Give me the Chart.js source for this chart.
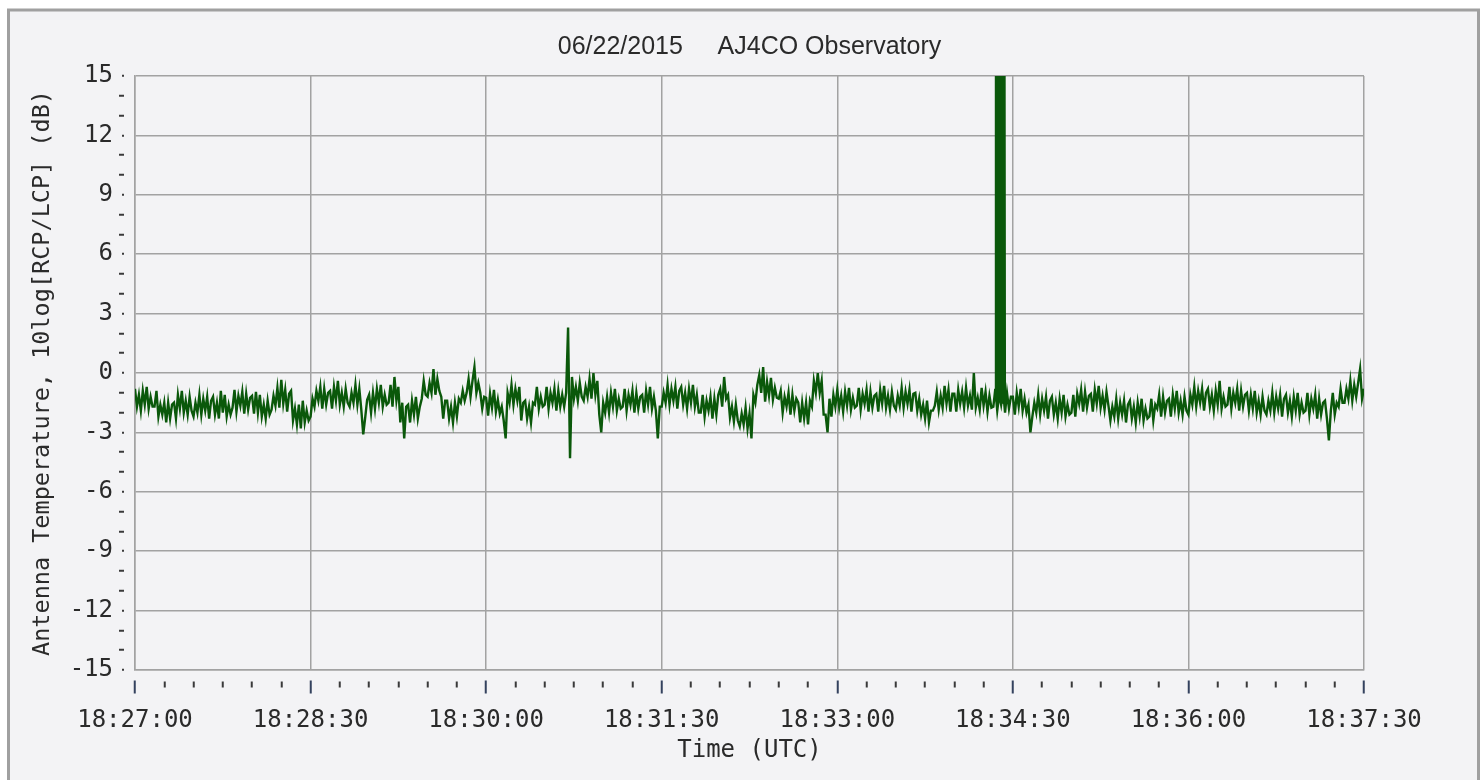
<!DOCTYPE html>
<html><head><meta charset="utf-8">
<script src="https://cdn.jsdelivr.net/npm/chart.js@4.4.1/dist/chart.umd.min.js"></script>
<style>html,body{margin:0;padding:0;background:#fff;overflow:hidden}canvas{display:block}</style>
</head><body>
<canvas id="c" width="1481" height="780"></canvas>
<script>
const chartTitle = '06/22/2015     AJ4CO Observatory';
const xAxisTitle = 'Time (UTC)';
const yAxisTitle = 'Antenna Temperature, 10log[RCP/LCP] (dB)';
const xTickLabels = ['18:27:00','18:28:30','18:30:00','18:31:30','18:33:00','18:34:30','18:36:00','18:37:30'];
const yTickLabels = ['-15','-12','-9','-6','-3','0','3','6','9','12','15'];
const sampleSeconds = 1; // one value per second from 18:27:00

// 10log[RCP/LCP] (dB), one value per second
const ratio = [
-0.8,-1.7,-1.1,-1.9,-0.9,-1.6,-0.7,-1.8,-1.2,-1.7,
-1.7,-0.9,-2.2,-1.6,-2.1,-1.5,-2.5,-1.5,-2.3,-1.6,
-1.5,-2.3,-1.1,-1.8,-0.9,-2.0,-1.4,-2.1,-1.2,-1.9,
-2.2,-1.5,-2.0,-1.1,-2.1,-1.3,-1.9,-1.2,-2.3,-1.4,
-1.2,-2.1,-1.5,-2.3,-0.9,-2.0,-1.1,-2.2,-1.6,-2.1,
-1.75,-0.85,-1.95,-1.15,-1.65,-0.95,-2.05,-1.05,-1.85,-1.25,
-1.15,-2.05,-0.95,-2.0,-1.1,-2.2,-1.6,-2.3,-1.4,-2.1,
-1.85,-1.15,-1.65,-0.75,-1.75,-0.35,-1.55,-0.85,-1.95,-1.05,
-0.9,-2.4,-1.8,-2.6,-1.6,-2.8,-1.4,-2.5,-1.9,-2.4,
-2.2,-1.3,-1.7,-0.9,-1.4,-0.7,-1.8,-0.8,-1.6,-1.0,
-0.9,-1.8,-0.7,-1.4,-0.4,-1.6,-1.0,-1.7,-0.8,-1.5,
-1.7,-1.0,-1.5,-0.6,-1.6,-0.8,-1.85,-3.1,-2.25,-1.35,
-1.1,-2.0,-1.0,-1.8,-0.8,-1.5,-0.6,-1.7,-1.1,-1.6,
-1.5,-0.6,-1.7,-0.2,-1.4,-0.7,-2.5,-1.5,-3.3,-1.7,
-1.6,-2.5,-1.4,-2.1,-1.2,-2.3,-1.7,-1.3,-0.4,-1.1,
-1.2,-0.5,-1.0,0.2,-1.1,-0.3,-0.9,-1.2,-2.3,-1.4,
-1.4,-2.3,-1.7,-2.5,-1.5,-2.2,-1.3,-1.5,-0.9,-1.4,
-1.0,-0.3,-1.2,-0.4,0.3,-1.0,-0.5,-1.0,-1.8,-1.2,
-1.25,-2.15,-1.05,-1.75,-0.85,-1.95,-1.35,-2.05,-1.7,-2.4,
-3.3,-1.0,-1.5,-0.6,-1.6,-0.8,-1.4,-0.7,-2.4,-1.5,
-1.4,-2.3,-1.7,-2.5,-1.5,-1.6,-0.7,-1.8,-1.2,-1.7,
-1.6,-0.7,-1.8,-1.0,-1.5,-0.8,-1.9,-0.9,-1.7,-1.1,
-1.7,-1.0,2.3,-4.3,-0.2,-1.3,-0.7,-1.4,-0.5,-1.2,
-1.4,-0.7,-1.2,-0.3,-1.3,0.0,-1.1,-0.4,-2.1,-3.0,
-1.5,-2.0,-1.2,-2.0,-1.0,-1.7,-0.8,-1.9,-1.3,-1.8,
-1.7,-0.8,-1.9,-1.1,-1.6,-0.9,-2.0,-1.0,-1.8,-1.2,
-1.1,-2.0,-0.9,-1.6,-0.7,-1.8,-1.2,-1.9,-3.3,-1.7,
-1.7,-1.0,-1.5,-0.6,-1.6,-0.8,-1.4,-0.7,-1.8,-0.9,
-0.7,-1.6,-1.0,-1.8,-0.8,-1.5,-0.6,-1.7,-1.1,-2.0,
-2.0,-1.1,-2.2,-1.4,-1.9,-1.2,-2.3,-1.3,-2.1,-1.1,
-0.8,-1.7,-0.2,-1.3,-1.1,-2.25,-1.7,-2.45,-1.6,-2.4,
-2.7,-2.05,-2.6,-1.75,-2.8,-2.05,-3.3,-1.1,-1.5,-0.6,
-0.1,-1.0,0.3,-1.45,-0.45,-1.15,-0.25,-1.35,-0.75,-1.25,
-1.3,-0.9,-2.0,-1.2,-1.7,-1.0,-2.1,-1.1,-1.9,-1.3,
-1.5,-2.5,-1.5,-2.3,-1.5,-2.6,-1.4,-1.7,-0.4,-1.0,
0.0,-1.0,-0.4,-2.1,-2.1,-3.0,-1.3,-2.2,-1.1,-1.7,
-0.85,-1.75,-1.15,-1.95,-0.95,-1.65,-0.75,-1.85,-1.25,-1.75,
-1.65,-0.75,-1.85,-1.05,-1.55,-0.85,-1.95,-0.95,-1.75,-1.15,
-1.05,-1.95,-0.85,-1.55,-0.65,-1.75,-1.15,-1.85,-0.95,-1.65,
-1.85,-1.15,-1.65,-0.75,-1.75,-0.95,-1.55,-0.85,-1.95,-1.05,
-1.0,-1.9,-1.3,-2.1,-1.6,-2.3,-1.4,-2.5,-1.9,-1.9,
-1.65,-0.95,-1.85,-1.15,-1.75,-0.65,-1.55,-0.85,-1.95,-1.05,
-1.05,-1.95,-0.85,-1.55,-0.95,-1.75,-0.75,-1.65,-1.15,-1.85,
0.0,-1.75,-1.25,-1.85,-0.75,-1.65,-0.95,-1.95,-1.15,-1.75,
-1.7,-0.8,-1.9,-1.1,-1.6,-0.9,-2.0,-1.0,-1.8,-1.2,
-1.2,-2.1,-1.0,-1.7,-0.8,-1.9,-1.3,-2.0,-1.6,-3.0,
-2.2,-1.5,-2.0,-1.1,-2.1,-1.3,-1.9,-1.2,-2.3,-1.4,
-1.2,-2.1,-1.5,-2.3,-1.3,-2.0,-1.1,-2.2,-1.6,-2.1,
-2.0,-1.1,-2.2,-1.05,-1.55,-0.85,-1.95,-0.95,-1.75,-1.15,
-1.05,-1.95,-0.85,-1.55,-0.65,-1.75,-1.15,-1.85,-0.95,-1.65,
-2.4,-1.7,-2.2,-1.3,-2.3,-1.5,-2.1,-1.4,-2.5,-1.6,
-1.4,-2.3,-1.7,-2.5,-1.5,-2.2,-1.3,-2.4,-1.8,-2.3,
-2.2,-1.3,-2.4,-1.6,-1.8,-1.1,-2.2,-1.2,-2.0,-1.4,
-1.3,-2.2,-1.1,-1.8,-0.9,-2.0,-1.4,-2.1,-1.2,-1.9,
-2.1,-1.1,-1.6,-0.7,-1.7,-0.9,-1.5,-0.8,-1.9,-1.0,
-0.8,-1.7,-1.1,-1.9,-0.9,-1.6,-0.4,-1.8,-1.2,-1.7,
-1.6,-0.7,-1.8,-1.0,-1.5,-0.8,-1.9,-0.9,-1.7,-1.1,
-1.0,-1.9,-1.1,-1.8,-0.9,-2.0,-1.4,-2.1,-1.2,-1.9,
-2.1,-1.4,-1.9,-1.0,-2.0,-1.2,-1.8,-1.1,-2.2,-1.3,
-1.1,-2.0,-1.4,-2.2,-1.2,-1.9,-1.0,-2.1,-1.5,-2.0,
-1.9,-1.0,-2.1,-1.3,-1.8,-1.1,-2.3,-1.3,-2.1,-1.5,
-1.4,-2.3,-3.4,-1.9,-1.0,-2.1,-1.5,-1.7,-0.8,-1.5,
-1.5,-0.8,-1.3,-0.4,-1.4,-0.6,-1.2,-0.5,0.2,-1.3,
-0.8
];

// strong burst near 18:34:21 (seconds after 18:27:00, dB; goes off scale)
const burstTimes = [441.0,441.25,441.5,441.75,442.0,442.25,442.5,442.75,443.0,443.25,443.5,443.75,444.0,444.25,444.5,444.75,445.0,445.25,445.5,445.75,446.0,446.25];
const burstValues = [-1.3,20,-1.1,20,-1.4,20,-1.2,20,-1.0,20,-1.3,20,-1.2,20,-1.5,20,-1.1,20,-1.3,20,-1.4,-1.6];

const lineGreen = '#0a580a';
const gridGray = '#a2a2a2';
const textColor = '#2a2a2a';
const mono = "'DejaVu Sans Mono', monospace";
const sans = "'Liberation Sans', Arial, sans-serif";
const clear = 'rgba(0,0,0,0)';

const framePlugin = {
  id: 'frame',
  beforeDraw(chart) {
    const c = chart.ctx, W = chart.width, H = chart.height;
    c.save();
    c.fillStyle = '#ffffff';
    c.fillRect(0, 0, W, H);
    c.fillStyle = '#f3f3f5';
    c.fillRect(8, 10, W - 10, H);
    c.strokeStyle = '#a0a0a0';
    c.lineWidth = 3;
    c.strokeRect(8.5, 10, 1470, H + 20);
    c.restore();
  }
};

new Chart(document.getElementById('c'), {
  type: 'line',
  data: {
    datasets: [
      {
        label: 'burst',
        data: burstTimes.map((t, i) => ({x: t, y: burstValues[i]})),
        borderColor: lineGreen, borderWidth: 2, pointRadius: 0, tension: 0
      },
      {
        label: '10log[RCP/LCP]',
        data: ratio.map((v, i) => ({x: i * sampleSeconds, y: v})),
        borderColor: lineGreen, borderWidth: 2.4, pointRadius: 0, tension: 0,
        borderJoinStyle: 'miter'
      }
    ]
  },
  options: {
    responsive: false,
    devicePixelRatio: 1,
    animation: false,
    events: [],
    layout: {padding: {left: 0, right: 117, top: 0, bottom: 0}},
    plugins: {legend: {display: false}, tooltip: {enabled: false}, title: {display: false}},
    scales: {
      x: {
        type: 'linear', position: 'bottom', min: 0, max: 630,
        afterFit: s => { s.height = 110; },
        ticks: {
          stepSize: 15, autoSkip: false, maxRotation: 0, minRotation: 0, padding: 12,
          font: {family: mono, size: 24}, color: textColor,
          callback: v => (v % 90 === 0 ? xTickLabels[Math.round(v / 90)] : '')
        },
        grid: {
          color: c => (c.tick && c.tick.value % 90 === 0 ? gridGray : clear),
          lineWidth: 1.5, tickLength: 24, tickWidth: 2,
          tickColor: c => (c.tick && c.tick.value % 90 === 0 ? '#34425e' : '#3a3a3a'),
          tickBorderDash: c => (c.tick && c.tick.value % 90 === 0 ? [0, 10, 13, 100] : [0, 11, 6, 100])
        },
        border: {display: true, color: gridGray, width: 1.5},
        title: {display: true, text: xAxisTitle, font: {family: mono, size: 24}, color: textColor, padding: {top: 0, bottom: 14.5}}
      },
      x2: {
        type: 'linear', position: 'top', min: 0, max: 630,
        afterFit: s => { s.height = 76; },
        ticks: {display: false},
        grid: {display: false},
        border: {display: false},
        title: {display: true, text: chartTitle, font: {family: sans, size: 25}, color: textColor, padding: {top: 32, bottom: 0}}
      },
      y: {
        type: 'linear', position: 'left', min: -15, max: 15,
        afterFit: s => { s.width = 135; },
        ticks: {
          stepSize: 1, autoSkip: false, maxTicksLimit: 100, padding: 6,
          font: {family: mono, size: 24}, color: textColor,
          callback: v => (v % 3 === 0 ? yTickLabels[Math.round((v + 15) / 3)] : '')
        },
        grid: {
          color: c => (c.tick && c.tick.value % 3 === 0 ? gridGray : clear),
          lineWidth: 1.5, tickLength: 16, tickWidth: 2, tickColor: '#3a3a3a',
          tickBorderDash: c => (c.tick && c.tick.value % 3 === 0 ? [0, 3, 2, 100] : [5, 100])
        },
        border: {display: true, color: gridGray, width: 1.5},
        title: {display: true, text: yAxisTitle, font: {family: mono, size: 23.5}, color: textColor, padding: {top: 29, bottom: 0}}
      }
    }
  },
  plugins: [framePlugin]
});
</script>
</body></html>
